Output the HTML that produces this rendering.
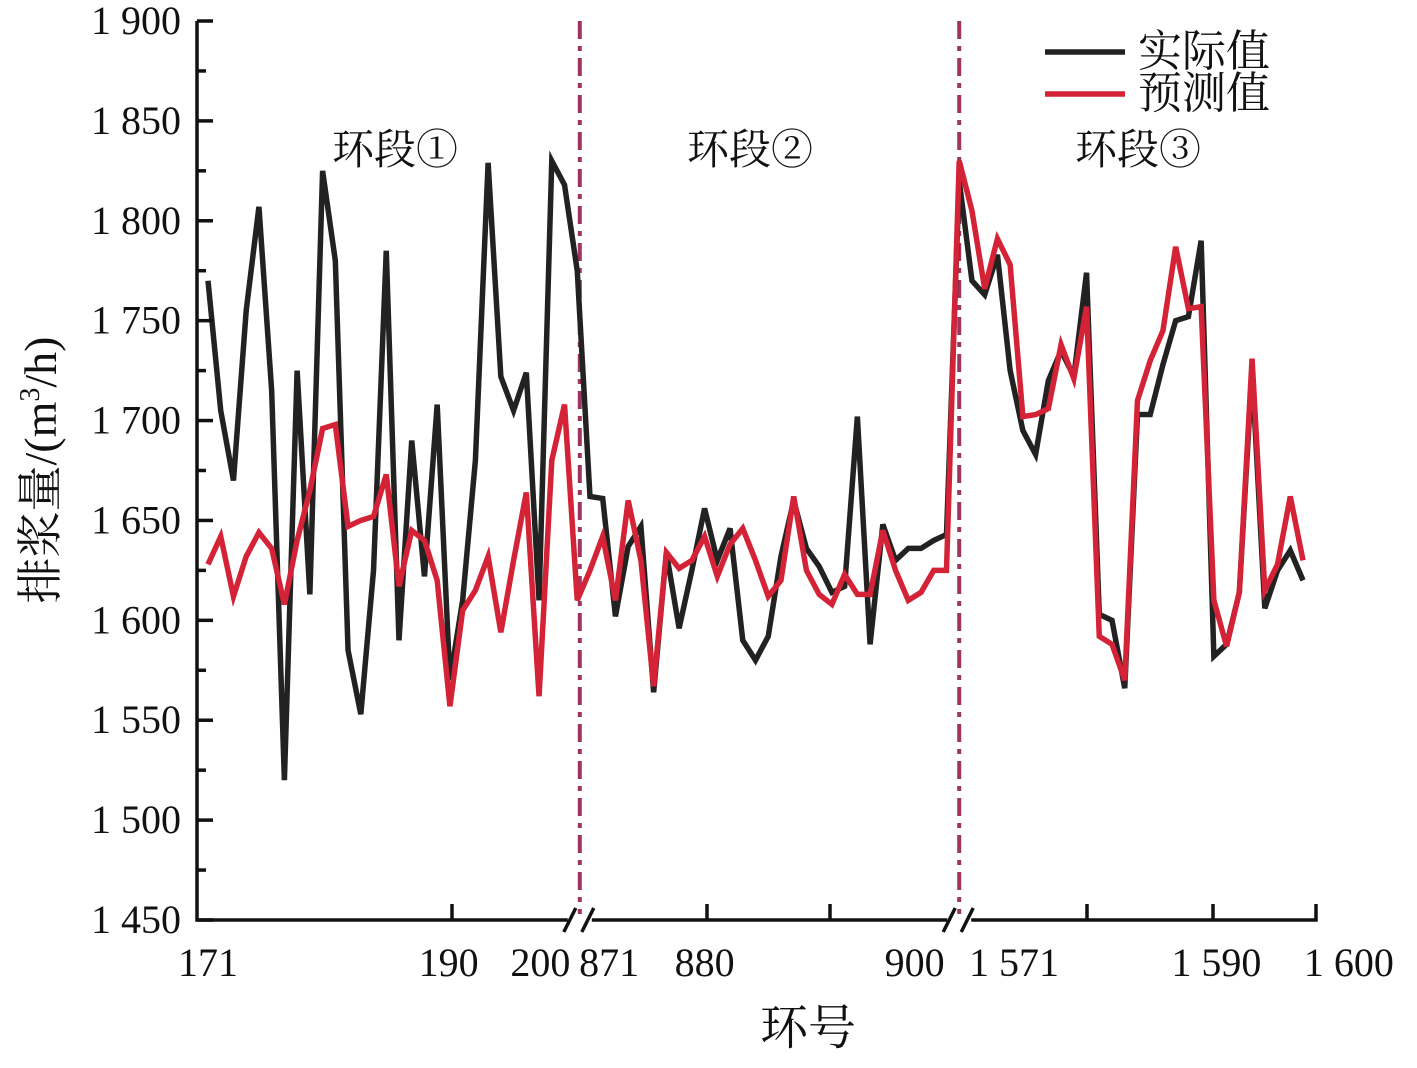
<!DOCTYPE html>
<html><head><meta charset="utf-8"><style>
html,body{margin:0;padding:0;background:#fff;}
svg text{font-family:"Liberation Serif","Noto Serif CJK SC",serif;fill:#111;}
</style></head><body>
<svg id="chart" width="1417" height="1063" viewBox="0 0 1417 1063" xmlns="http://www.w3.org/2000/svg">
</svg>
<script>
const yTicks=[1450,1500,1550,1600,1650,1700,1750,1800,1850,1900];
const yTickLabels=["1 450","1 500","1 550","1 600","1 650","1 700","1 750","1 800","1 850","1 900"];
const xLabels=["171","190","200","871","880","900","1 571","1 590","1 600"];
const xLabelIdx=[0,18.9,26.1,31.5,39,55.5,63.3,79.2,89.6];
const actual=[1770,1705,1670,1755,1807,1715,1520,1725,1613,1825,1780,1585,1553,1625,1785,1590,1690,1622,1708,1570,1610,1680,1829,1722,1705,1724,1610,1830,1818,1775,
1662,1661,1602,1637,1647,1564,1634,1596,1625,1656,1630,1646,1590,1580,1592,1632,1660,1636,1627,1614,1617,1702,1588,1648,1630,1636,1636,1640,1643,
1820,1770,1763,1783,1725,1695,1683,1720,1735,1722,1774,1603,1600,1566,1703,1703,1728,1750,1752,1790,1582,1588,1614,1725,1606,1625,1635,1620];
const predicted=[1628,1642,1612,1632,1644,1636,1608,1640,1665,1696,1698,1647,1650,1652,1673,1617,1645,1640,1620,1557,1605,1615,1632,1594,1630,1664,1562,1680,1708,1610,
1625,1642,1610,1660,1630,1567,1634,1626,1630,1642,1622,1638,1646,1630,1612,1620,1662,1625,1613,1608,1623,1613,1613,1645,1625,1610,1614,1625,1625,
1830,1805,1766,1791,1778,1702,1703,1706,1738,1721,1757,1592,1588,1570,1710,1730,1745,1787,1756,1757,1610,1587,1614,1731,1615,1628,1662,1630];
const breakIdx=[29.2,59];
const svg=document.getElementById('chart');
const NS='http://www.w3.org/2000/svg';
const X0=197,X1=1316,Y0=920,Y1=21,IX0=208,STEP=(1303-208)/86;
const xs=i=>IX0+i*STEP;
const ys=v=>Y0-(v-1450)/(1900-1450)*(Y0-Y1);
function mk(tag,attrs,parent){const e=document.createElementNS(NS,tag);for(const k in attrs)e.setAttribute(k,attrs[k]);(parent||svg).appendChild(e);return e;}
breakIdx.forEach((b,i)=>{
 const l=mk('line',{x1:xs(b),x2:xs(b),y1:Y1,y2:Y0,stroke:'#9e3560','stroke-width':4,'stroke-dasharray':'18,7,5,7'});
 
 
});
function series(data,color,name){
 const p=mk('polyline',{points:data.map((v,i)=>xs(i)+','+ys(v)).join(' '),fill:'none',stroke:color,'stroke-width':5.5,'stroke-linejoin':'miter'});
 
 
}
series(actual,'#222222','actual-line');
series(predicted,'#d42336','predicted-line');
const ax=mk('path',{d:`M${X0},${Y1} V${Y0} H${X1} V${Y0-16}`,fill:'none',stroke:'#111','stroke-width':3.5});


yTicks.forEach((v,i)=>{
 const y=ys(v);
 mk('line',{x1:X0,x2:X0+16,y1:y,y2:y,stroke:'#111','stroke-width':3.5});
 if(i<yTicks.length-1){const ym=ys(v+25);mk('line',{x1:X0,x2:X0+9,y1:ym,y2:ym,stroke:'#111','stroke-width':3.5});}
 const t=mk('text',{x:181,y:y+13,'text-anchor':'end','font-size':40});
 t.textContent=yTickLabels[i];
 
 
});
[452,707,830,1087,1213].forEach(x=>mk('line',{x1:x,x2:x,y1:Y0,y2:Y0-16,stroke:'#111','stroke-width':3.5}));
xLabels.forEach((s,i)=>{
 const t=mk('text',{x:xs(xLabelIdx[i]),y:976,'text-anchor':'middle','font-size':40});
 t.textContent=s;
 
 
});
breakIdx.forEach(b=>{const x=xs(b);
 mk('rect',{x:x-12,y:Y0-6,width:24,height:12,fill:'#fff'});
 mk('line',{x1:x-16,y1:Y0+12,x2:x-4,y2:Y0-12,stroke:'#111','stroke-width':3.5});
 mk('line',{x1:x+2,y1:Y0+12,x2:x+14,y2:Y0-12,stroke:'#111','stroke-width':3.5});
});
</script>
<svg style="position:absolute;left:0;top:0" width="1417" height="1063" xmlns="http://www.w3.org/2000/svg">
<text x="395" y="164" text-anchor="middle" font-size="42">环段①</text>
<text x="750" y="164" text-anchor="middle" font-size="42">环段②</text>
<text x="1138" y="164" text-anchor="middle" font-size="42">环段③</text>
<g>
<line x1="1045" x2="1125" y1="52" y2="52" stroke="#222" stroke-width="5.5"/>
<text x="1138" y="66" font-size="44">实际值</text>
<line x1="1045" x2="1125" y1="94" y2="94" stroke="#d42336" stroke-width="5.5"/>
<text x="1138" y="108" font-size="44">预测值</text>
</g>
<text transform="translate(56,470) rotate(-90)" text-anchor="middle" font-size="46">排浆量/(m<tspan font-size="28" dy="-17">3</tspan><tspan dy="17">/h)</tspan></text>
<text x="808" y="1044" text-anchor="middle" font-size="48">环号</text>
</svg>
</body></html>
